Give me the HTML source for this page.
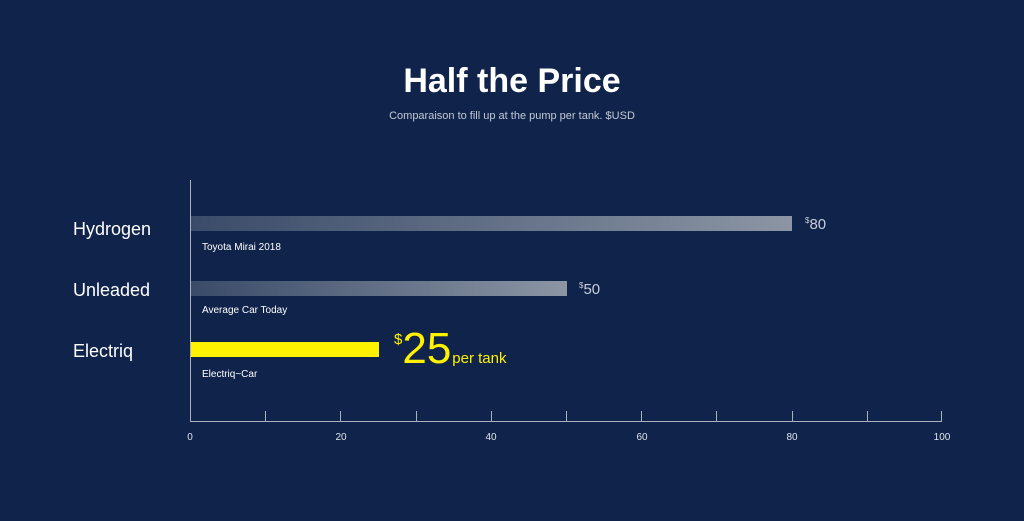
<!DOCTYPE html>
<html><head><meta charset="utf-8"><style>
html,body{margin:0;padding:0;background:#10234a;}
svg{display:block;font-family:"Liberation Sans",sans-serif;}
</style></head><body>
<svg width="1024" height="521" viewBox="0 0 1024 521">
<defs>
<linearGradient id="g" x1="0" x2="1" y1="0" y2="0">
<stop offset="0" stop-color="#3a4b69"/><stop offset="1" stop-color="#8b95a4"/>
</linearGradient>
</defs>
<rect width="1024" height="521" fill="#10234a"/>
<text x="512" y="92" text-anchor="middle" font-size="34" font-weight="bold" fill="#fff">Half the Price</text>
<text x="512" y="119" text-anchor="middle" font-size="11" fill="#c3cad5">Comparaison to fill up at the pump per tank. $USD</text>
<line x1="190.5" y1="180" x2="190.5" y2="421" stroke="#aab3c0" stroke-width="1"/>
<line x1="190" y1="421.5" x2="942" y2="421.5" stroke="#aab3c0" stroke-width="1"/>
<g stroke="#aab3c0" stroke-width="1">
<line x1="265.5" y1="411" x2="265.5" y2="421"/><line x1="340.5" y1="411" x2="340.5" y2="421"/>
<line x1="416.5" y1="411" x2="416.5" y2="421"/><line x1="491.5" y1="411" x2="491.5" y2="421"/>
<line x1="566.5" y1="411" x2="566.5" y2="421"/><line x1="641.5" y1="411" x2="641.5" y2="421"/>
<line x1="716.5" y1="411" x2="716.5" y2="421"/><line x1="792.5" y1="411" x2="792.5" y2="421"/>
<line x1="867.5" y1="411" x2="867.5" y2="421"/><line x1="941.5" y1="411" x2="941.5" y2="421"/>
</g>
<g font-size="10" fill="#dfe4ea" text-anchor="middle">
<text x="190" y="440">0</text><text x="341" y="440">20</text><text x="491" y="440">40</text>
<text x="642" y="440">60</text><text x="792" y="440">80</text><text x="942" y="440">100</text>
</g>
<g font-size="18" fill="#fff">
<text x="73" y="235">Hydrogen</text><text x="73" y="296">Unleaded</text><text x="73" y="357">Electriq</text>
</g>
<rect x="191" y="216" width="601" height="15" fill="url(#g)"/>
<rect x="191" y="281" width="376" height="15" fill="url(#g)"/>
<rect x="191" y="342" width="188" height="15" fill="#fff200"/>
<g font-size="10" fill="#fff">
<text x="202" y="250">Toyota Mirai 2018</text><text x="202" y="313">Average Car Today</text><text x="202" y="377">Electriq~Car</text>
</g>
<text x="805" y="229" font-size="15" fill="#c8cfd9"><tspan font-size="8" dy="-6">$</tspan><tspan dy="6">80</tspan></text>
<text x="579" y="294" font-size="15" fill="#c8cfd9"><tspan font-size="8" dy="-6">$</tspan><tspan dy="6">50</tspan></text>
<text x="394" y="363" font-size="44" fill="#fff200"><tspan font-size="15" dy="-19">$</tspan><tspan dy="19">25</tspan><tspan font-size="15" dx="1">per tank</tspan></text>
</svg>
</body></html>
